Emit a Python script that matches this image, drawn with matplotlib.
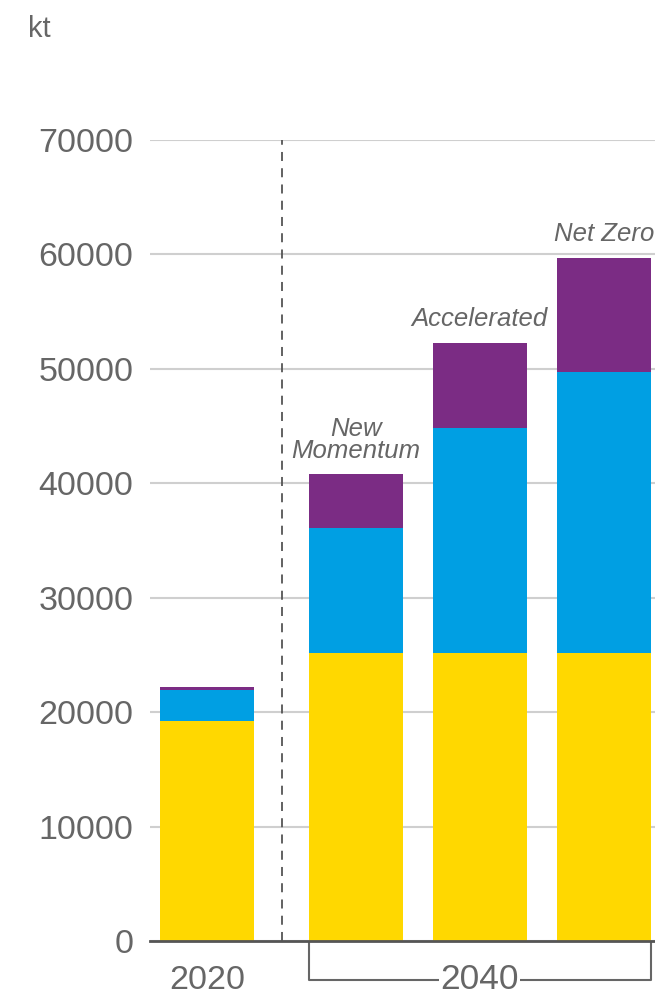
import matplotlib.pyplot as plt

# Stacked components (kt)
categories = ["2020", "New\nMomentum", "Accelerated", "Net Zero"]
yellow_vals = [19200, 25200, 25200, 25200]
blue_vals = [2700, 10900, 19600, 24500]
purple_vals = [300, 4700, 7500, 10000]
positions = [0, 1.2, 2.2, 3.2]
yticks = [0, 10000, 20000, 30000, 40000, 50000, 60000, 70000]

c_yellow = "#FFD800"
c_blue = "#009FE3"
c_purple = "#7B2C84"
grey_txt = "#666666"

plt.rcParams["font.family"] = ["Liberation Sans", "DejaVu Sans"]

fig = plt.figure(figsize=(6.55, 9.97), dpi=100)
ax = fig.add_axes([0.229, 0.0562, 0.771, 0.8034])

w = 0.758
bottoms2 = [a + b for a, b in zip(yellow_vals, blue_vals)]
ax.bar(positions, yellow_vals, width=w, color=c_yellow, zorder=3)
ax.bar(positions, blue_vals, width=w, bottom=yellow_vals, color=c_blue, zorder=3)
ax.bar(positions, purple_vals, width=w, bottom=bottoms2, color=c_purple, zorder=3)

ax.set_xlim(-0.46, 3.613)
ax.set_ylim(0, 70000)
ax.set_yticks(yticks)
ax.set_yticklabels([str(t) for t in yticks], fontsize=24.5, color=grey_txt)
ax.tick_params(axis="y", length=0, pad=12)
ax.set_xticks([])
ax.grid(axis="y", color="#cfcfcf", linewidth=1.5, zorder=0)
for s in ["top", "right", "left"]:
    ax.spines[s].set_visible(False)
ax.spines["bottom"].set_color("#555555")
ax.spines["bottom"].set_linewidth(2)
ax.spines["bottom"].set_zorder(5)

# Divider between historical and scenario bars
ax.plot([0.605, 0.605], [0, 70000], color="#555555", linestyle=(0, (5, 4)),
        linewidth=1.3, zorder=4, clip_on=False)

# Scenario labels above bars
totals = [a + b for a, b in zip(bottoms2, purple_vals)]
for x, t, lab in zip(positions[1:], totals[1:], categories[1:]):
    ax.text(x, t + 1000, lab, ha="center", va="bottom", fontsize=18.5,
            style="italic", color=grey_txt, linespacing=0.9)

# Year labels
trans = ax.get_xaxis_transform()
ax.text(positions[0], -0.049, "2020", transform=trans, ha="center", va="center",
        fontsize=24.5, color=grey_txt)

# Bracket spanning the 2040 scenarios
x0, x1 = positions[1] - w / 2, positions[3] + w / 2
yb = -0.0486
ax.plot([x0, x0, x1, x1], [-0.002, yb, yb, -0.002], transform=trans,
        color="#666666", linewidth=1.5, clip_on=False)
ax.text((x0 + x1) / 2, yb, "2040", transform=trans, ha="center", va="center",
        fontsize=25.5, color=grey_txt,
        bbox=dict(facecolor="white", edgecolor="none", pad=1))

fig.text(28 / 655, 1 - 29 / 997, "kt", ha="left", va="center", fontsize=21,
         color=grey_txt)

fig.savefig("out.png", dpi=100)
